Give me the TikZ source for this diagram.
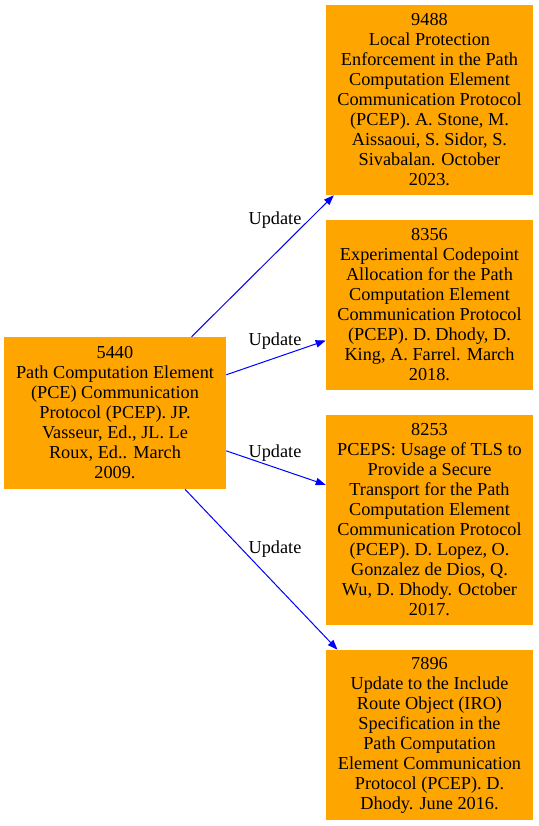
\documentclass[tikz,border=0pt]{standalone}
\usepackage{fontspec}
\setmainfont{Liberation Serif}
\usetikzlibrary{arrows.meta}
\definecolor{gvorange}{HTML}{FFA500}
\definecolor{gvblue}{HTML}{0000FF}
\tikzset{
  doc/.style={fill=gvorange, draw=none, inner sep=0pt, align=center,
    font=\fontsize{13.7}{15}\selectfont, minimum width=155.25pt},
  upd/.style={draw=gvblue, line width=0.75pt, -{Triangle[length=7.5pt,width=5.5pt]}, fill=none},
  lbl/.style={inner sep=0pt, font=\fontsize{13.7}{15}\selectfont}
}
\begin{document}
\begin{tikzpicture}[x=0.75pt,y=-0.75pt]
\useasboundingbox (0,0) rectangle (539,826);
\node[doc, minimum width=166.5pt, minimum height=114pt] (n5440) at (115,413)
  {5440\\Path Computation Element\\(PCE) Communication\\Protocol (PCEP). JP.\\Vasseur, Ed., JL. Le\\Roux, Ed.. March\\2009.};
\node[doc, minimum height=142.5pt] (n9488) at (429.5,100)
  {9488\\Local Protection\\Enforcement in the Path\\Computation Element\\Communication Protocol\\(PCEP). A. Stone, M.\\Aissaoui, S. Sidor, S.\\Sivabalan. October\\2023.};
\node[doc, minimum height=127.5pt] (n8356) at (429.5,305)
  {8356\\Experimental Codepoint\\Allocation for the Path\\Computation Element\\Communication Protocol\\(PCEP). D. Dhody, D.\\King, A. Farrel. March\\2018.};
\node[doc, minimum height=157.5pt] (n8253) at (429.5,520)
  {8253\\PCEPS: Usage of TLS to\\Provide a Secure\\Transport for the Path\\Computation Element\\Communication Protocol\\(PCEP). D. Lopez, O.\\Gonzalez de Dios, Q.\\Wu, D. Dhody. October\\2017.};
\node[doc, minimum height=127.5pt] (n7896) at (429.5,735)
  {7896\\Update to the Include\\Route Object (IRO)\\Specification in the\\Path Computation\\Element Communication\\Protocol (PCEP). D.\\Dhody. June 2016.};
\draw[upd] (n5440) -- (n9488);
\draw[upd] (n5440) -- (n8356);
\draw[upd] (n5440) -- (n8253);
\draw[upd] ([xshift=52.5pt]n5440.south) -- ([xshift=-69pt]n7896.north);
\node[lbl] (l1) at (275,220) {Update};
\node[lbl] (l2) at (275,341) {Update};
\node[lbl] (l3) at (275,453) {Update};
\node[lbl] (l4) at (275,549) {Update};
\end{tikzpicture}
\end{document}
